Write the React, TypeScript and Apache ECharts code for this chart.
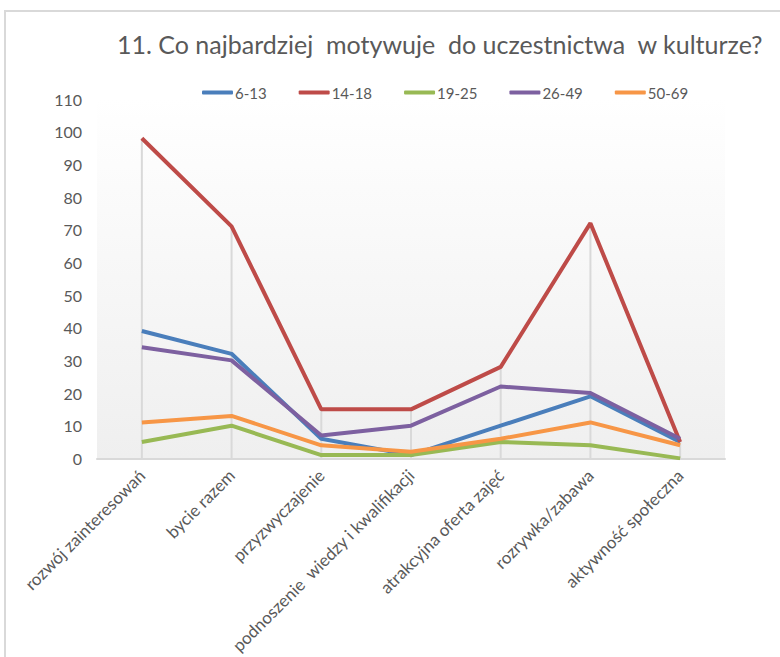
import React, { useEffect, useRef } from "react";
import * as echarts from "echarts";

const categories = [
  "rozwój zainteresowań",
  "bycie razem",
  "przyzwyczajenie",
  "podnoszenie  wiedzy i kwalifikacji",
  "atrakcyjna oferta zajęć",
  "rozrywka/zabawa",
  "aktywność społeczna",
];
const seriesNames = ["6-13", "14-18", "19-25", "26-49", "50-69"];
const s6_13 = [39, 32, 6, 1, 10, 19, 5];
const s14_18 = [98, 71, 15, 15, 28, 72, 5];
const s19_25 = [5, 10, 1, 1, 5, 4, 0];
const s26_49 = [34, 30, 7, 10, 22, 20, 6];
const s50_69 = [11, 13, 4, 2, 6, 11, 4];
const yTicks = { min: 0, max: 110, interval: 10 };

const colors = ["#4A7EBB", "#BE4B48", "#98B954", "#7D60A0", "#F79646"];
const FONT = "Lato";

export default function App() {
  const ref = useRef<HTMLDivElement>(null);
  useEffect(() => {
    document.body.style.margin = "0";
    const chart = echarts.init(ref.current!, null, { renderer: "svg" });
    const all = [s6_13, s14_18, s19_25, s26_49, s50_69];
    const maxima = categories.map((_, i) => [i, Math.max(...all.map((s) => s[i]))]);
    chart.setOption({
      animation: false,
      backgroundColor: "#ffffff",
      textStyle: { fontFamily: FONT },
      title: {
        text: "11. Co najbardziej  motywuje  do uczestnictwa  w kulturze?",
        left: 112,
        top: 26,
        textStyle: { fontFamily: FONT, fontSize: 25, fontWeight: "normal", color: "#595959" },
      },
      legend: {
        left: 197,
        top: 80,
        itemWidth: 31,
        itemHeight: 4,
        itemGap: 32,
        icon: "roundRect",
        data: seriesNames,
        textStyle: { fontFamily: FONT, fontSize: 15, color: "#595959", padding: [0, 0, 0, -3] },
      },
      graphic: [
        {
          type: "rect",
          shape: { x: 5, y: 11, width: 900, height: 800 },
          style: { fill: "none", stroke: "#d9d9d9", lineWidth: 2 },
          silent: true,
        },
      ],
      grid: {
        left: 97,
        right: 55,
        top: 99,
        bottom: 197,
        show: true,
        borderWidth: 0,
        backgroundColor: new echarts.graphic.LinearGradient(0, 0, 0, 1, [
          { offset: 0, color: "#ffffff" },
          { offset: 0.12, color: "#fdfdfd" },
          { offset: 1, color: "#efefef" },
        ]),
      },
      xAxis: {
        type: "category",
        data: categories,
        boundaryGap: true,
        axisLine: { lineStyle: { color: "#d9d9d9", width: 2 } },
        axisTick: { show: false },
        axisLabel: {
          rotate: 45,
          interval: 0,
          margin: 14,
          fontFamily: FONT,
          fontSize: 17,
          color: "#595959",
        },
      },
      yAxis: {
        type: "value",
        min: yTicks.min,
        max: yTicks.max,
        interval: yTicks.interval,
        axisLine: { show: false },
        axisTick: { show: false },
        splitLine: { show: false },
        axisLabel: { margin: 15, fontFamily: FONT, fontSize: 16, color: "#595959" },
      },
      series: [
        {
          type: "custom",
          silent: true,
          z: 1,
          data: maxima,
          renderItem: (params: any, api: any) => {
            const top = api.coord([api.value(0), api.value(1)]);
            const bottom = api.coord([api.value(0), 0]);
            return {
              type: "line",
              shape: { x1: top[0], y1: top[1], x2: bottom[0], y2: bottom[1] },
              style: { stroke: "#d9d9d9", lineWidth: 2 },
            };
          },
        },
        ...all.map((data, i) => ({
          name: seriesNames[i],
          type: "line",
          data,
          z: 2 + i,
          symbol: "none",
          lineStyle: { color: colors[i], width: 4 },
          itemStyle: { color: colors[i] },
        })),
      ],
    });
    return () => chart.dispose();
  }, []);
  return <div ref={ref} style={{ width: 780, height: 657 }} />;
}
